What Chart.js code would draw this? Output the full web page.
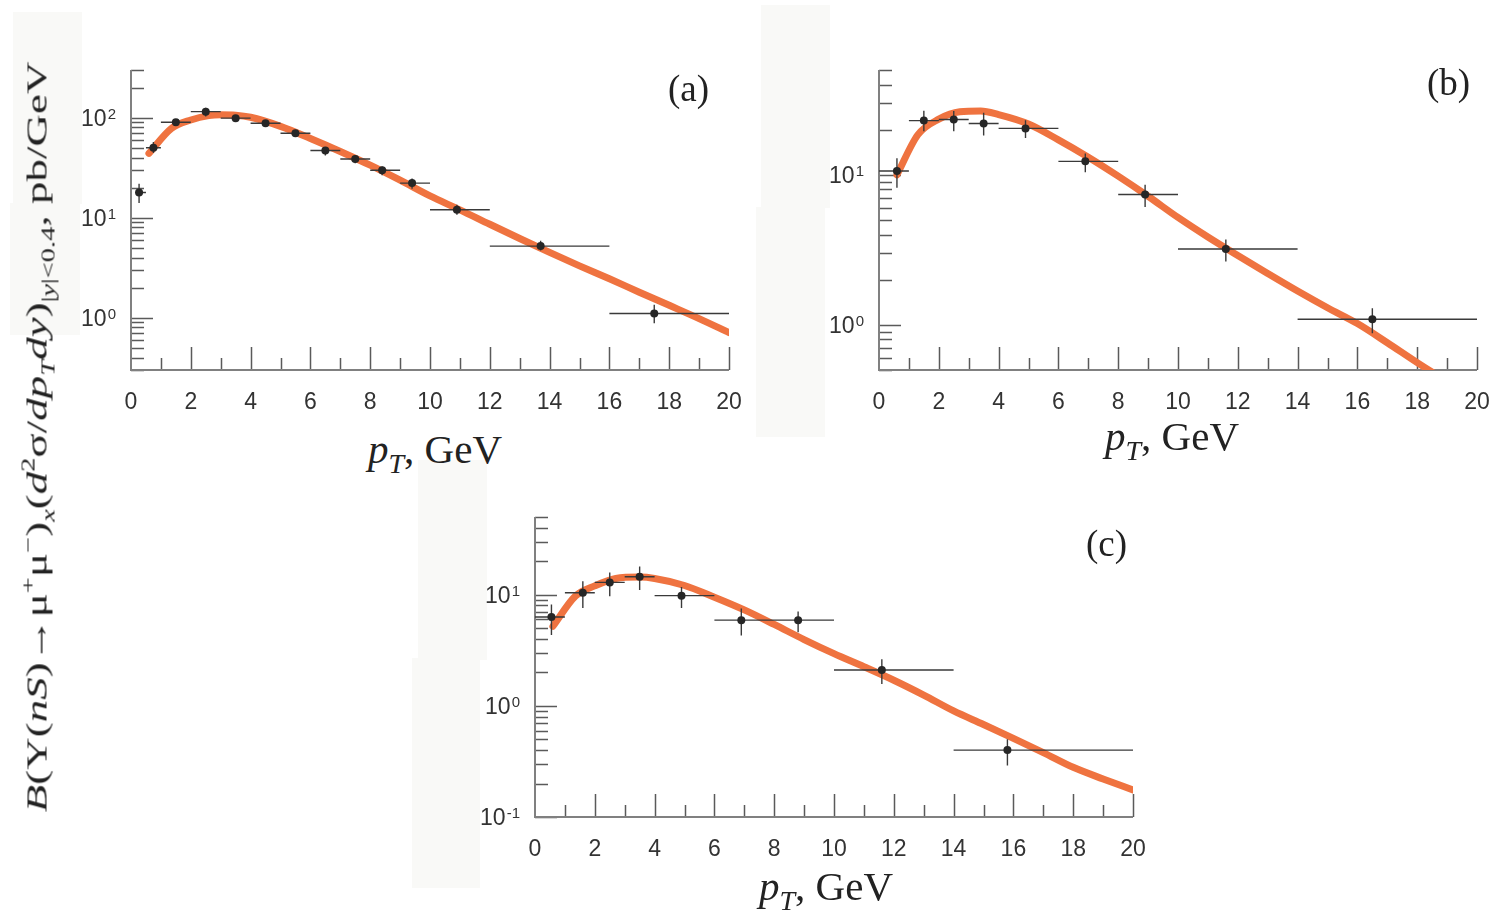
<!DOCTYPE html>
<html>
<head>
<meta charset="utf-8">
<script src="https://cdn.jsdelivr.net/npm/chart.js@4.4.0/dist/chart.umd.min.js"></script>
<style>
  body { margin: 0; background: #fff; width: 1493px; height: 919px; position: relative; overflow: hidden; }
  .bg { position: absolute; background: #f9f9f7; }
  .panel { position: absolute; }
  .tag, .xt, .yt { position: absolute; font-family: "Liberation Serif", "Times New Roman", serif; color: #222; line-height: 1; white-space: nowrap; }
  .tag { font-size: 37px; }
  .xt { font-size: 41px; text-align: center; width: 300px; }
  .xt sub { font-size: 28px; vertical-align: -10px; }
  .yt { font-size: 30px; left: 38px; top: 437px; transform: translate(-50%, -50%) rotate(-90deg) scaleX(1.5); }
  .yt sup { font-size: 19px; vertical-align: 12px; }
  .yt sub { font-size: 19px; vertical-align: -8px; }
</style>
</head>
<body>
<div class="bg" style="left:13px;top:12px;width:69px;height:192px"></div>
<div class="bg" style="left:10px;top:203px;width:70px;height:132px"></div>
<div class="bg" style="left:761px;top:5px;width:69px;height:203px"></div>
<div class="bg" style="left:756px;top:207px;width:69px;height:230px"></div>
<div class="bg" style="left:418px;top:460px;width:69px;height:200px"></div>
<div class="bg" style="left:412px;top:658px;width:68px;height:230px"></div>

<canvas class="panel" id="ca" width="706" height="360" style="left:41px;top:60px"></canvas>
<canvas class="panel" id="cb" width="706" height="360" style="left:789px;top:60px"></canvas>
<canvas class="panel" id="cc" width="706" height="360" style="left:445px;top:507px"></canvas>

<div class="tag" style="left:668px;top:70px">(a)</div>
<div class="tag" style="left:1427px;top:64px">(b)</div>
<div class="tag" style="left:1086px;top:525px">(c)</div>

<div class="xt" style="left:285px;top:429px"><i>p</i><sub><i>T</i></sub>, GeV</div>
<div class="xt" style="left:1022px;top:416px"><i>p</i><sub><i>T</i></sub>, GeV</div>
<div class="xt" style="left:676px;top:866px"><i>p</i><sub><i>T</i></sub>, GeV</div>

<div class="yt"><i>B</i>(Υ(<i>nS</i>)→μ<sup>+</sup>μ<sup>−</sup>)<sub><i>x</i></sub>(<i>d</i><sup>2</sup>σ/<i>dp<sub>T</sub>dy</i>)<sub>|<i>y</i>|&lt;0.4</sub>, pb/GeV</div>

<script>
// ---- panel (a) ----
var ptA    = [0.27, 0.75, 1.5, 2.5, 3.5, 4.5, 5.5, 6.5, 7.5, 8.4, 9.4, 10.9, 13.7, 17.5];
var ptLoA  = [0.15, 0.5, 1, 2, 3, 4, 5, 6, 7, 8, 9, 10, 12, 16];
var ptHiA  = [0.5, 1, 2, 3, 4, 5, 6, 7, 8, 9, 10, 12, 16, 20];
var valA   = [17.9, 50, 90, 115, 99, 88, 70, 47, 38.7, 29.8, 22.2, 12.0, 5.2, 1.1];
var upA    = [21.9, 57, 97, 126, 104, 93, 76, 51, 42, 32.6, 24.6, 13.5, 5.9, 1.35];
var dnA    = [14.0, 44.5, 83, 103, 94, 83, 64, 42, 35, 26.6, 19.5, 10.7, 4.7, 0.88];
var curveXA = [0.6, 1.35, 2, 2.6, 3, 3.5, 4, 5, 6, 7, 8, 9, 10, 11, 12, 13, 14, 15, 16, 17, 18, 19, 20];
var curveYA = [44, 78, 95, 105, 107, 106, 101, 82, 62, 46, 33.5, 23.7, 16.5, 12, 8.6, 6.2, 4.5, 3.3, 2.45, 1.8, 1.33, 0.98, 0.71];
var decadesA = [0, 1, 2];

// ---- panel (b) ----
var ptB    = [0.6, 1.5, 2.5, 3.5, 4.9, 6.9, 8.9, 11.6, 16.5];
var ptLoB  = [0, 1, 2, 3, 4, 6, 8, 10, 14];
var ptHiB  = [1, 2, 3, 4, 6, 8, 10, 14, 20];
var valB   = [10.6, 23, 23.4, 22, 20.4, 12.3, 7.4, 3.2, 1.09];
var upB    = [12.9, 26.7, 26.6, 25.9, 23.1, 13.9, 8.6, 3.7, 1.29];
var dnB    = [8.2, 19.5, 19.5, 18.3, 17.6, 10.4, 6.1, 2.64, 0.88];
var curveXB = [0.6, 1.3, 2, 2.7, 3.4, 4, 5, 6, 7, 8, 9, 10, 11, 12, 13, 14, 15, 16, 17, 18, 19, 20];
var curveYB = [10, 18.5, 23.5, 26.3, 26.6, 25.2, 21.8, 17.1, 13.1, 9.8, 7.2, 5.2, 3.85, 2.9, 2.2, 1.68, 1.3, 1.02, 0.76, 0.56, 0.42, 0.32];
var decadesB = [0, 1];

// ---- panel (c) ----
var ptC    = [0.55, 1.6, 2.5, 3.5, 4.9, 6.9, 8.8, 11.6, 15.8];
var ptLoC  = [0, 1, 2, 3, 4, 6, 8, 10, 14];
var ptHiC  = [1, 2, 3, 4, 6, 8, 10, 14, 20];
var valC   = [6.3, 10.4, 12.9, 14.5, 9.8, 5.9, 5.9, 2.1, 0.4];
var upC    = [8.15, 13.2, 15.8, 17.9, 11.7, 7.5, 7.05, 2.62, 0.5];
var dnC    = [4.33, 7.6, 9.7, 11.0, 7.6, 4.3, 4.6, 1.57, 0.29];
var curveXC = [0.6, 1.35, 2, 2.7, 3.5, 4, 5, 6, 7, 8, 9, 10, 11, 12, 13, 14, 15, 16, 17, 18, 19, 20];
var curveYC = [5.2, 9.7, 12, 14, 14.4, 14, 12.1, 9.5, 7.3, 5.4, 3.95, 2.95, 2.25, 1.7, 1.25, 0.9, 0.68, 0.51, 0.38, 0.28, 0.22, 0.175];
var decadesC = [-1, 0, 1];

var xTicks = [0, 2, 4, 6, 8, 10, 12, 14, 16, 18, 20];

var ORANGE = 'rgb(239,115,64)';
var TICKFONT = '"Liberation Sans", Arial, sans-serif';

// inward ticks, axis lines and 10^n labels
var framePlugin = {
    id: 'frame',
    beforeDatasetsDraw: function(chart, args, opts) {
        var ctx = chart.ctx, a = chart.chartArea;
        var x = chart.scales.x, y = chart.scales.y;
        ctx.save();
        ctx.strokeStyle = '#5a5a5a';
        ctx.lineWidth = 1.5;
        ctx.beginPath();
        for (var v = 1; v <= 20; v++) {
            var px = Math.round(x.getPixelForValue(v)) + 0.5;
            var len = v % 2 === 0 ? 23 : 12;
            ctx.moveTo(px, a.bottom);
            ctx.lineTo(px, a.bottom - len);
        }
        var d0 = Math.floor(Math.log10(y.min)), d1 = Math.ceil(Math.log10(y.max));
        for (var d = d0; d <= d1; d++) {
            for (var m = 1; m <= 9; m++) {
                var val = m * Math.pow(10, d);
                if (val < y.min * 0.999 || val > y.max * 1.001) continue;
                var py = Math.round(y.getPixelForValue(val)) + 0.5;
                ctx.moveTo(a.left, py);
                ctx.lineTo(a.left + (m === 1 ? 22 : 13), py);
            }
        }
        ctx.stroke();

        // axis lines
        ctx.strokeStyle = '#808080';
        ctx.lineWidth = 2;
        ctx.beginPath();
        ctx.moveTo(a.left, a.top);
        ctx.lineTo(a.left, a.bottom);
        ctx.lineTo(a.right, a.bottom);
        ctx.stroke();

        // decade labels
        ctx.fillStyle = '#333';
        opts.decades.forEach(function(e) {
            var py = y.getPixelForValue(Math.pow(10, e));
            var sup = String(e);
            ctx.font = '15px ' + TICKFONT;
            var sw = ctx.measureText(sup).width;
            var right = a.left - 15;
            ctx.textAlign = 'right';
            ctx.textBaseline = 'alphabetic';
            ctx.fillText(sup, right, py + 1);
            ctx.font = '23px ' + TICKFONT;
            ctx.textBaseline = 'middle';
            ctx.fillText('10', right - sw - 1, py + 2);
        });
        ctx.restore();
    },
    // error bars go between the curve and the markers
    beforeDatasetDraw: function(chart, args) {
        if (args.index !== 0) return;
        var ctx = chart.ctx;
        var x = chart.scales.x, y = chart.scales.y;
        ctx.save();
        ctx.strokeStyle = '#3a3a3a';
        ctx.lineWidth = 1.4;
        ctx.beginPath();
        chart.data.datasets[0].data.forEach(function(p) {
            var px = x.getPixelForValue(p.x), py = y.getPixelForValue(p.y);
            ctx.moveTo(x.getPixelForValue(p.xLo), py);
            ctx.lineTo(x.getPixelForValue(p.xHi), py);
            ctx.moveTo(px, y.getPixelForValue(p.yHi));
            ctx.lineTo(px, y.getPixelForValue(p.yLo));
        });
        ctx.stroke();
        ctx.restore();
    }
};

function makePanel(id, pt, lo, hi, val, up, dn, cx, cy, yMin, yMax, decades) {
    var pts = pt.map(function(p, i) {
        return { x: p, y: val[i], xLo: lo[i], xHi: hi[i], yLo: dn[i], yHi: up[i] };
    });
    var curve = cx.map(function(p, i) { return { x: p, y: cy[i] }; });
    return new Chart(document.getElementById(id).getContext('2d'), {
        type: 'scatter',
        data: {
            datasets: [{
                label: 'data',
                data: pts,
                pointRadius: 4,
                pointBackgroundColor: '#262626',
                pointBorderWidth: 0
            }, {
                type: 'line',
                label: 'theory',
                data: curve,
                borderColor: ORANGE,
                borderWidth: 7,
                borderCapStyle: 'round',
                borderJoinStyle: 'round',
                cubicInterpolationMode: 'monotone',
                pointRadius: 0,
                fill: false
            }]
        },
        options: {
            responsive: false,
            animation: false,
            events: [],
            layout: { padding: { top: 10, right: 18, left: 0, bottom: 0 } },
            plugins: {
                legend: { display: false },
                tooltip: { enabled: false },
                frame: { decades: decades }
            },
            scales: {
                x: {
                    type: 'linear',
                    min: 0,
                    max: 20,
                    afterFit: function(s) {
                        s.height = 50;
                        s.paddingLeft = 0;
                        s.paddingRight = 0;
                    },
                    afterBuildTicks: function(s) {
                        s.ticks = xTicks.map(function(v) { return { value: v }; });
                    },
                    grid: { display: false, drawTicks: false },
                    border: { display: false },
                    ticks: {
                        padding: 19,
                        maxRotation: 0,
                        autoSkip: false,
                        color: '#333',
                        font: { family: TICKFONT, size: 23 }
                    }
                },
                y: {
                    type: 'logarithmic',
                    min: yMin,
                    max: yMax,
                    afterFit: function(s) { s.width = 90; },
                    grid: { display: false, drawTicks: false },
                    border: { display: false },
                    ticks: { display: false }
                }
            }
        },
        plugins: [framePlugin]
    });
}

makePanel('ca', ptA, ptLoA, ptHiA, valA, upA, dnA, curveXA, curveYA, 0.3, 300, decadesA);
makePanel('cb', ptB, ptLoB, ptHiB, valB, upB, dnB, curveXB, curveYB, 0.5, 50, decadesB);
makePanel('cc', ptC, ptLoC, ptHiC, valC, upC, dnC, curveXC, curveYC, 0.1, 50, decadesC);
</script>
</body>
</html>
